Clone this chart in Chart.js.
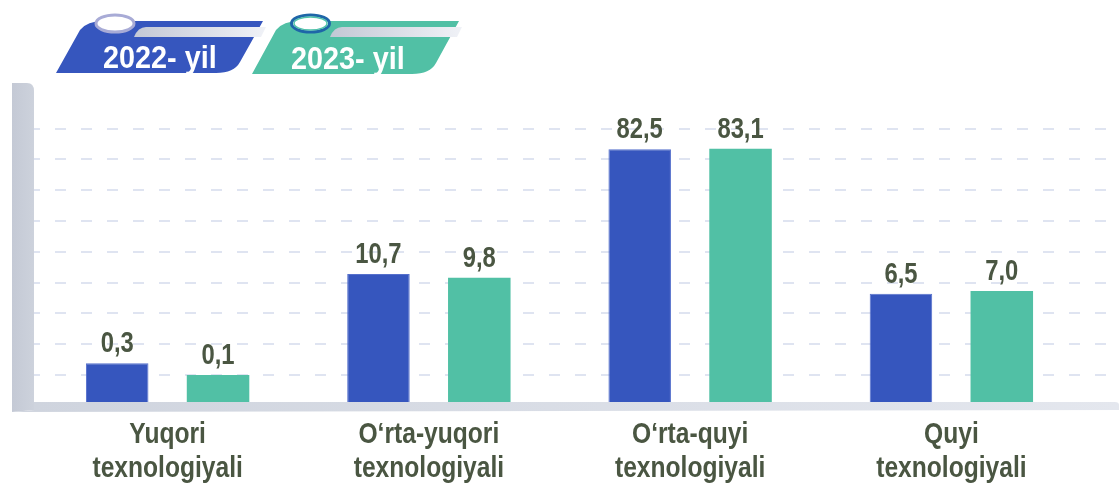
<!DOCTYPE html>
<html>
<head>
<meta charset="utf-8">
<script src="https://cdn.jsdelivr.net/npm/chart.js@4.4.1/dist/chart.umd.min.js"></script>
<style>
  html, body { margin: 0; padding: 0; background: #ffffff; }
  #wrap { width: 1119px; height: 490px; position: relative; }
</style>
</head>
<body>
<div id="wrap"><canvas id="c" width="1119" height="490"></canvas></div>
<script>
// ---- data ----
const categories = [
  ["Yuqori", "texnologiyali"],
  ["O\u2018rta-yuqori", "texnologiyali"],
  ["O\u2018rta-quyi", "texnologiyali"],
  ["Quyi", "texnologiyali"]
];
const seriesNames = ["2022- yil", "2023- yil"];
const values2022 = [0.3, 10.7, 82.5, 6.5];
const values2023 = [0.1, 9.8, 83.1, 7.0];
const gridLevels = [0, 1, 2, 3, 4, 5, 6, 7, 8];

// ---- styles ----
const BLUE = '#3656be';
const TEAL = '#51c0a5';
const TEXT = '#4a5642';
const FONT = '"Liberation Sans", Arial, sans-serif';
const NARROW_K = 0.82;   // horizontal squeeze -> Arial Narrow look

// cube-root value scale (the original infographic is not drawn linearly)
class CubeRootScale extends Chart.LinearScale {
  getPixelForValue(value) {
    if (value === null || value === undefined || isNaN(value)) return NaN;
    const a = Math.cbrt(this.min), b = Math.cbrt(this.max);
    return this.getPixelForDecimal((Math.cbrt(value) - a) / (b - a));
  }
  getValueForPixel(pixel) {
    const a = Math.cbrt(this.min), b = Math.cbrt(this.max);
    const t = a + this.getDecimalForPixel(pixel) * (b - a);
    return t * t * t;
  }
}
CubeRootScale.id = 'cuberoot';
CubeRootScale.defaults = Chart.LinearScale.defaults;

// category scale whose labels are drawn horizontally condensed
class NarrowCategoryScale extends Chart.CategoryScale {
  drawLabels(chartArea) {
    if (!this.options.ticks.display) return;
    const ctx = this.ctx;
    const items = this.getLabelItems(chartArea);
    for (const item of items) {
      const o = item.options;
      const f = item.font;
      const lines = Array.isArray(item.label) ? item.label : [item.label];
      ctx.save();
      ctx.translate(o.translation[0], o.translation[1]);
      ctx.scale(NARROW_K, 1);
      ctx.font = f.string;
      ctx.fillStyle = o.color;
      ctx.textAlign = o.textAlign;
      ctx.textBaseline = o.textBaseline;
      let y = item.textOffset;
      for (const line of lines) {
        ctx.fillText(line, 0, y);
        y += f.lineHeight;
      }
      ctx.restore();
    }
  }
}
NarrowCategoryScale.id = 'narrowcategory';
NarrowCategoryScale.defaults = Chart.CategoryScale.defaults;
Chart.register(CubeRootScale, NarrowCategoryScale);

const decorPlugin = {
  id: 'decor',
  beforeDatasetsDraw(chart) {
    const ctx = chart.ctx;
    const area = chart.chartArea;
    const g = chart.scales.g;
    const L = 12, R = 34, top = 83, bot = area.bottom;
    ctx.save();
    // dashed grid lines
    ctx.strokeStyle = '#dfe4f1';
    ctx.lineWidth = 2;
    ctx.setLineDash([11, 15]);
    ctx.lineDashOffset = 5;
    gridLevels.forEach(v => {
      const y = Math.round(g.getPixelForValue(v));
      ctx.beginPath();
      ctx.moveTo(R, y);
      ctx.lineTo(1111, y);
      ctx.stroke();
    });
    ctx.setLineDash([]);
    // left wall
    let gr = ctx.createLinearGradient(L, 0, R, 0);
    gr.addColorStop(0, '#c4c9d5');
    gr.addColorStop(1, '#cdd2dc');
    ctx.fillStyle = gr;
    ctx.beginPath();
    ctx.moveTo(L, top);
    ctx.lineTo(R - 7, top);
    ctx.quadraticCurveTo(R, top, R, top + 8);
    ctx.lineTo(R, bot + 8);
    ctx.lineTo(L, bot + 10);
    ctx.closePath();
    ctx.fill();
    // floor band
    gr = ctx.createLinearGradient(R, 0, 1119, 0);
    gr.addColorStop(0, '#cfd4de');
    gr.addColorStop(1, '#e4e7ee');
    ctx.fillStyle = gr;
    ctx.beginPath();
    ctx.moveTo(R, bot);
    ctx.lineTo(1115, bot);
    ctx.quadraticCurveTo(1119, bot, 1119, bot + 3);
    ctx.lineTo(1119, bot + 8);
    ctx.lineTo(L, bot + 10);
    ctx.lineTo(R, bot + 8);
    ctx.closePath();
    ctx.fill();
    ctx.restore();
  },
  afterDatasetsDraw(chart) {
    const ctx = chart.ctx;
    chart.data.datasets.forEach((ds, i) => {
      chart.getDatasetMeta(i).data.forEach((el, j) => {
        const txt = ds.data[j].toFixed(1).replace('.', ',');
        ctx.save();
        ctx.translate(el.x, el.y - 11);
        ctx.scale(NARROW_K, 1);
        ctx.fillStyle = TEXT;
        ctx.font = 'bold 29px ' + FONT;
        ctx.textAlign = 'center';
        ctx.textBaseline = 'alphabetic';
        ctx.fillText(txt, 0, 0);
        ctx.restore();
      });
    });
  },
  afterDraw(chart) {
    const ctx = chart.ctx;
    const badges = [
      { dx: 56, top: 21, bot: 73, tx: 103, ty: 68, ring: '#a8abd6', inner: null },
      { dx: 252, top: 21, bot: 74, tx: 291, ty: 69, ring: '#1e66a8', inner: '#52c3ab' }
    ];
    chart.data.datasets.forEach((ds, i) => {
      const b = badges[i];
      const x = b.dx;
      ctx.save();
      // badge body
      ctx.fillStyle = ds.backgroundColor;
      ctx.beginPath();
      ctx.moveTo(x, b.bot);
      ctx.lineTo(x + 24, b.top + 9);
      ctx.quadraticCurveTo(x + 31, b.top, x + 48, b.top);
      ctx.lineTo(x + 207, b.top);
      ctx.lineTo(x + 184, b.bot - 11);
      ctx.quadraticCurveTo(x + 178, b.bot, x + 160, b.bot);
      ctx.closePath();
      ctx.fill();
      // light strip
      const sg = ctx.createLinearGradient(x + 78, 0, x + 210, 0);
      sg.addColorStop(0, '#c3c8d5');
      sg.addColorStop(1, '#f0f2f7');
      ctx.fillStyle = sg;
      ctx.beginPath();
      ctx.moveTo(x + 78, b.top + 16);
      ctx.quadraticCurveTo(x + 82, b.top + 6, x + 90, b.top + 6);
      ctx.lineTo(x + 210, b.top + 6);
      ctx.lineTo(x + 205, b.top + 16);
      ctx.closePath();
      ctx.fill();
      // ring
      const cx = x + (i === 0 ? 59 : 58.5), cy = 23.5;
      ctx.fillStyle = '#ffffff';
      ctx.strokeStyle = b.ring;
      ctx.lineWidth = 3;
      ctx.beginPath();
      ctx.ellipse(cx, cy, 19, 8.5, 0, 0, Math.PI * 2);
      ctx.fill();
      ctx.stroke();
      if (b.inner) {
        ctx.strokeStyle = b.inner;
        ctx.lineWidth = 1.5;
        ctx.beginPath();
        ctx.ellipse(cx, cy, 16.5, 6.5, 0, 0, Math.PI * 2);
        ctx.stroke();
      }
      // label text
      ctx.translate(b.tx, b.ty);
      ctx.scale(0.9, 1);
      ctx.fillStyle = '#ffffff';
      ctx.font = 'bold 32px ' + FONT;
      ctx.textAlign = 'left';
      ctx.textBaseline = 'alphabetic';
      ctx.fillText(ds.label, 0, 0);
      ctx.restore();
    });
  }
};

new Chart(document.getElementById('c'), {
  type: 'bar',
  data: {
    labels: categories,
    datasets: [
      { label: seriesNames[0], data: values2022, backgroundColor: BLUE, borderColor: '#5670cc', borderWidth: 1, yAxisID: 'y' },
      { label: seriesNames[1], data: values2023, backgroundColor: TEAL, borderWidth: 0, yAxisID: 'y' }
    ]
  },
  options: {
    responsive: false,
    animation: false,
    devicePixelRatio: 1,
    categoryPercentage: 0.772,
    barPercentage: 0.62,
    layout: { padding: { left: 37, right: 37, top: 85, bottom: 0 } },
    plugins: { legend: { display: false }, tooltip: { enabled: false } },
    scales: {
      x: {
        type: 'narrowcategory',
        grid: { display: false, drawTicks: false },
        border: { display: false },
        ticks: {
          color: TEXT,
          padding: 16,
          font: { family: FONT, size: 30, weight: 'bold', lineHeight: 34 / 30 },
          maxRotation: 0, autoSkip: false
        },
        afterFit(s) { s.height = 88; }
      },
      y: { type: 'cuberoot', min: 0, max: 162.9, display: false },
      g: { type: 'linear', min: -0.877, max: 9.415, display: false, position: 'right' }
    }
  },
  plugins: [decorPlugin]
});
</script>
</body>
</html>
